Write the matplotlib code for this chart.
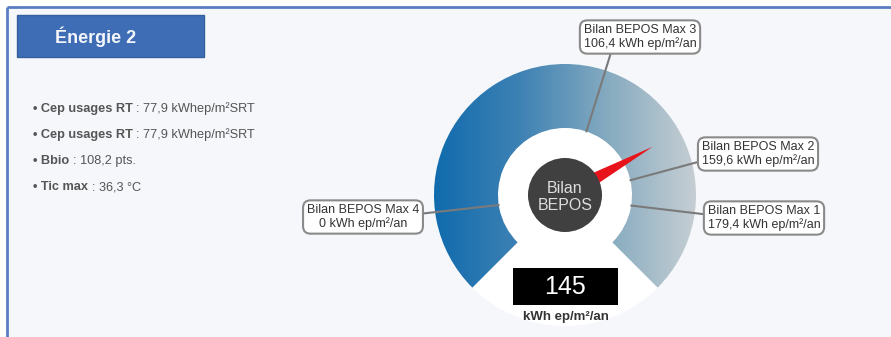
import numpy as np
import matplotlib
matplotlib.use("Agg")
import matplotlib.pyplot as plt
from matplotlib.patches import Rectangle, Circle, Wedge, Polygon
from matplotlib.colors import LinearSegmentedColormap

plt.rcParams['font.family'] = ['Liberation Sans', 'DejaVu Sans']

# figures shown in the panel
title = 'Énergie 2'
info_labels = ['Cep usages RT', 'Cep usages RT', 'Bbio', 'Tic max']
info_values = ['77,9 kWhep/m²SRT', '77,9 kWhep/m²SRT', '108,2 pts.', '36,3 °C']

bilan_value = 145
bilan_unit = 'kWh ep/m²/an'
max_names = ['Bilan BEPOS Max 1', 'Bilan BEPOS Max 2', 'Bilan BEPOS Max 3', 'Bilan BEPOS Max 4']
max_values = [179.4, 159.6, 106.4, 0]

# gauge scale (value -> angle), 270 degree sweep
gauge_min, gauge_max = -33, 212

W, H = 891, 337
fig = plt.figure(figsize=(W / 100, H / 100), dpi=100)
fig.patch.set_facecolor('white')
ax = fig.add_axes([0, 0, 1, 1])
ax.set_xlim(0, W)
ax.set_ylim(H, 0)
ax.axis('off')

# panel background and blue frame
ax.add_patch(Rectangle((7, 7), W, H, facecolor='#f5f7fb', edgecolor='none', zorder=0))
ax.plot([7, W], [7, 7], color='#5a7ec0', lw=2, zorder=1, solid_capstyle='butt')
ax.plot([7, 7], [7, H], color='#5a7ec0', lw=2, zorder=1, solid_capstyle='butt')

# title tab
ax.add_patch(Rectangle((17, 15), 187, 42, facecolor='#3e6db5', edgecolor='#35609f', lw=1, zorder=2))
ax.text(55, 37, title, color='#f4f6fa', fontsize=13, fontweight='bold', va='center', ha='left', zorder=3)

# bullet list
fig.canvas.draw()
renderer = fig.canvas.get_renderer()
for i, (lab, val) in enumerate(zip(info_labels, info_values)):
    y = 112 + i * 26
    t1 = ax.text(33, y, '• ' + lab + ' ', color='#555555', fontsize=9.2, fontweight='bold',
                 va='baseline', ha='left', zorder=3)
    bb = t1.get_window_extent(renderer)
    x_end = ax.transData.inverted().transform((bb.x1, bb.y0))[0]
    ax.text(x_end, y, ': ' + val, color='#555555', fontsize=9.2, va='baseline', ha='left', zorder=3)

# gauge geometry
cx, cy = 565, 195
r_out, r_in, r_hub = 131, 67, 37


def angle_of(v):
    return 225 - 270 * (v - gauge_min) / (gauge_max - gauge_min)


def point(a, r):
    a = np.radians(a)
    return cx + r * np.cos(a), cy - r * np.sin(a)


ax.add_patch(Circle((cx, cy), r_out, facecolor='white', edgecolor='none', zorder=2))

# gradient ring (y axis is inverted, so visual angles are negated)
ring = Wedge((cx, cy), r_out, -225, 45, width=r_out - r_in, facecolor='none', edgecolor='none')
ax.add_patch(ring)
cmap = LinearSegmentedColormap.from_list('ring', ['#106bad', '#3f82b4', '#86abc0', '#c6ced3'])
grad = np.tile(np.linspace(0, 1, 256), (2, 1))
im = ax.imshow(grad, cmap=cmap, extent=(cx - r_out, cx + r_out, cy + r_out, cy - r_out),
               interpolation='bicubic', aspect='auto', zorder=3)
im.set_clip_path(ring)
ax.set_xlim(0, W)
ax.set_ylim(H, 0)

# leader labels: box centre and where the leader leaves the box
box_pos = [(764, 218), (758, 154), (640, 37), (363, 217)]
leader_rel = [(0, 0.63), (0, 0.23), (0.25, 0), (1, 0.62)]
for name, v, (bx, by), rel in zip(max_names, max_values, box_pos, leader_rel):
    txt = name + '\n' + ('%.1f' % v).replace('.', ',').replace(',0', '') + ' kWh ep/m²/an'
    ax.annotate(txt, xy=point(angle_of(v), r_in), xytext=(bx, by),
                ha='center', va='center', fontsize=9, color='#333333', linespacing=1.1,
                bbox=dict(boxstyle='round,pad=0.3,rounding_size=0.6', facecolor='white',
                          edgecolor='#8a8a8a', lw=1.5),
                arrowprops=dict(arrowstyle='-', color='#7a7a7a', lw=1.5, shrinkA=0, shrinkB=0,
                                relpos=rel),
                zorder=6)

# needle
a = angle_of(bilan_value)
ar = np.radians(a)
tip = point(a, 100)
perp = np.array([-np.sin(ar), -np.cos(ar)])
base1 = np.array([cx, cy]) + 9 * perp
base2 = np.array([cx, cy]) - 9 * perp
ax.add_patch(Polygon([tip, base1, base2], closed=True, facecolor='#e8141c', edgecolor='none', zorder=7))

# hub
ax.add_patch(Circle((cx, cy), r_hub, facecolor='#404040', edgecolor='none', zorder=8))
ax.text(cx, cy + 2, 'Bilan\nBEPOS', color='#dddddd', fontsize=11.5, ha='center', va='center',
        linespacing=1.15, zorder=9)

# value display
ax.add_patch(Rectangle((513, 268), 105, 37, facecolor='black', edgecolor='none', zorder=8))
ax.text(565.5, 287, str(bilan_value), color='white', fontsize=18, ha='center', va='center', zorder=9)
ax.text(565.5, 317, bilan_unit, color='#333333', fontsize=9.5, fontweight='bold',
        ha='center', va='center', zorder=9)

fig.savefig('out.png', dpi=100, facecolor=fig.get_facecolor())
